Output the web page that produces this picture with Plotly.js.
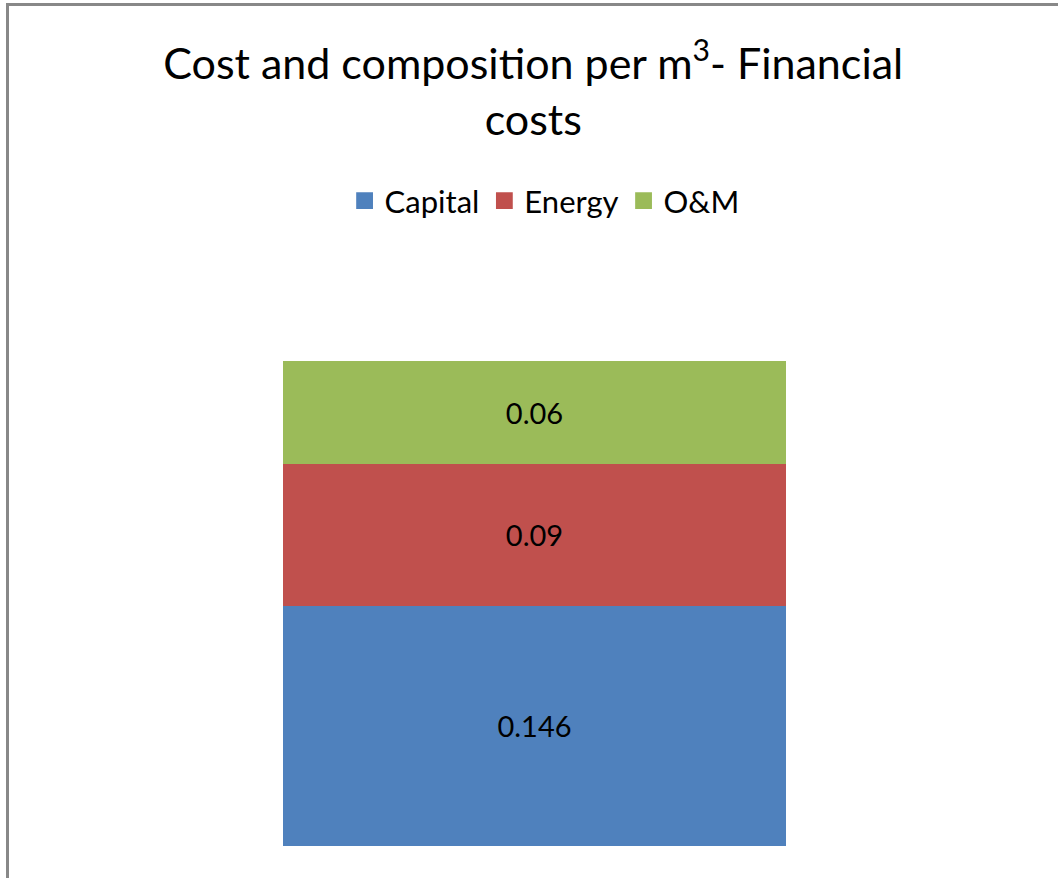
<!DOCTYPE html>
<html>
<head>
<meta charset="utf-8">
<script src="https://cdn.plot.ly/plotly-3.0.1.min.js"></script>
<style>
html,body{margin:0;padding:0;background:#fff;}
#wrap{position:relative;width:1058px;height:878px;}
#chart{width:1058px;height:878px;}
#frame{position:absolute;left:6px;top:3px;right:0;bottom:0;border-top:3px solid #888;border-left:3px solid #888;pointer-events:none;}
</style>
</head>
<body>
<div id="wrap"><div id="chart"></div><div id="frame"></div></div>
<script>
var categories = ["Financial costs"];
var seriesNames = ["Capital", "Energy", "O&M"];
var capital = [0.146];
var energy = [0.086];
var om = [0.063];
var capitalLabels = ["0.146"];
var energyLabels = ["0.09"];
var omLabels = ["0.06"];
var colors = ["#4F81BD", "#C0504D", "#9BBB59"];

var font = "Lato, 'Open Sans', sans-serif";
function tr(name, y, txt, c) {
  return {
    type: "bar", name: name, x: categories, y: y, text: txt,
    textposition: "inside", insidetextanchor: "middle", textangle: 0,
    textfont: {family: font, size: 29, color: "#000"},
    marker: {color: c, line: {width: 0}},
    hoverinfo: "name+y"
  };
}
var data = [
  tr(seriesNames[0], capital, capitalLabels, colors[0]),
  tr(seriesNames[1], energy, energyLabels, colors[1]),
  tr(seriesNames[2], om, omLabels, colors[2])
];
var layout = {
  width: 1058, height: 878,
  paper_bgcolor: "#fff", plot_bgcolor: "#fff",
  barmode: "stack", bargap: 0.5015,
  margin: {l: 30, r: 19, t: 270, b: 32},
  title: {
    text: "Cost and composition per m<sup>3</sup>- Financial<br>costs",
    font: {family: font, size: 43, color: "#000"},
    x: 0.504, xanchor: "center", y: 0.91, yanchor: "top"
  },
  showlegend: true,
  legend: {
    orientation: "h", x: 0.51, xanchor: "center", y: 1.12, yanchor: "middle",
    font: {family: font, size: 31, color: "#000"},
    traceorder: "normal", itemwidth: 30
  },
  xaxis: {visible: false, range: [-0.5, 0.5]},
  yaxis: {visible: false, range: [0, 0.35]}
};
Plotly.newPlot("chart", data, layout, {displayModeBar: false, staticPlot: true}).then(function (gd) {
  var pts = gd.querySelectorAll(".legend .legendpoints path");
  pts.forEach(function (p) {
    var t = p.getAttribute("transform") || "";
    p.setAttribute("transform", t + " scale(1.4)");
  });
});
</script>
</body>
</html>
